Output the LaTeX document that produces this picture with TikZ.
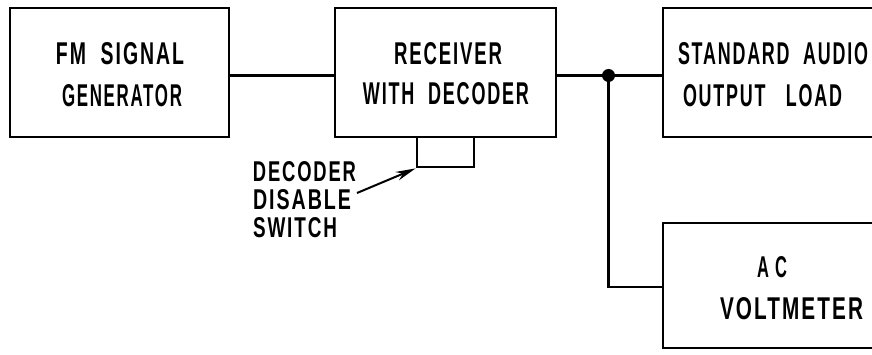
\documentclass[tikz,border=0pt]{standalone}
\usepackage{fontspec}
\usepackage{graphicx}
\usetikzlibrary{arrows.meta}
\newfontfamily\labfont[LetterSpace=10]{Liberation Sans Bold}
\newcommand\fitt[3]{\resizebox{#1pt}{#2pt}{\labfont #3}}
\begin{document}
\begin{tikzpicture}[x=1pt,y=-1pt,
  blk/.style={draw,line width=2.8pt,rectangle,inner sep=0pt},
  txt/.style={inner sep=0pt,anchor=center},
  wire/.style={line width=2.8pt}]
\useasboundingbox (0,0) rectangle (872,355);
\node[blk,minimum width=219pt,minimum height=129pt] (gen) at (119.5,72.5) {};
\node[blk,minimum width=221pt,minimum height=129pt] (rx) at (445.5,72.5) {};
\node[blk,minimum width=217pt,minimum height=129pt] (load) at (771.5,72.5) {};
\node[blk,minimum width=217pt,minimum height=125pt] (vm) at (771.5,285.5) {};
\node[blk,minimum width=57pt,minimum height=30pt] (sw) at (445.5,152) {};
\node[txt] (t1) at (120,53.5) {\fitt{128}{22}{FM\ \ SIGNAL}};
\node[txt] (t2) at (122,95.5) {\fitt{120}{22}{GENERATOR}};
\node[txt] (t3) at (448,54) {\fitt{108}{22}{RECEIVER}};
\node[txt] (t4) at (446,94) {\fitt{166}{22}{WITH\ \ DECODER}};
\node[txt] (t5) at (773,54) {\fitt{190}{22}{STANDARD\ \ AUDIO}};
\node[txt] (t6) at (762.5,95.5) {\fitt{159}{22}{OUTPUT\ \ \ LOAD}};
\node[txt] (t7) at (772,267) {\fitt{30}{21}{A\ C}};
\node[txt] (t8) at (791.5,309) {\fitt{143}{22}{VOLTMETER}};
\node[txt] (l1) at (304.5,172) {\fitt{103}{20}{DECODER}};
\node[txt] (l2) at (302,200) {\fitt{98}{20}{DISABLE}};
\node[txt] (l3) at (295,228) {\fitt{84}{20}{SWITCH}};
\fill (608.5,75.5) circle (6.5pt) coordinate (dot);
\coordinate (a0) at (357,193);
\draw[wire] (gen.east |- 0,75.5) -- (rx.west |- 0,75.5);
\draw[wire] (rx.east |- 0,75.5) -- (dot) -- (load.west |- dot);
\draw[wire] (dot) |- (vm.west |- 0,287);
\draw[line width=2pt,-{Stealth[length=20pt,width=9pt]}] (a0) -- (sw.south west);
\end{tikzpicture}
\end{document}
